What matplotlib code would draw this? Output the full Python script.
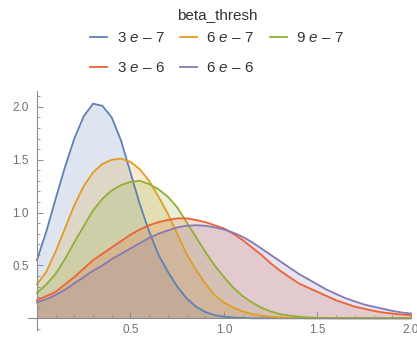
import numpy as np
import matplotlib
matplotlib.use("Agg")
import matplotlib.pyplot as plt
from matplotlib.ticker import MultipleLocator

plt.rcParams['font.family'] = ['Liberation Sans', 'DejaVu Sans']
plt.rcParams['mathtext.fontset'] = 'custom'
plt.rcParams['mathtext.it'] = 'Liberation Sans:italic'
plt.rcParams['mathtext.rm'] = 'Liberation Sans'

# x positions where the curves were read (step 0.05)
x = np.round(np.arange(0, 2.0001, 0.05), 2)

beta_3e7 = [0.55, 0.82, 1.13, 1.43, 1.70, 1.91, 2.03, 2.01, 1.90, 1.68,
            1.38, 1.08, 0.82, 0.60, 0.44, 0.30, 0.19, 0.11, 0.06, 0.03,
            0.015, 0.007, 0.003, 0, 0, 0, 0, 0, 0, 0,
            0, 0, 0, 0, 0, 0, 0, 0, 0, 0, 0]
beta_6e7 = [0.32, 0.44, 0.63, 0.85, 1.07, 1.25, 1.38, 1.46, 1.50, 1.51,
            1.48, 1.41, 1.30, 1.15, 0.99, 0.80, 0.61, 0.46, 0.33, 0.22,
            0.15, 0.10, 0.065, 0.04, 0.025, 0.015, 0.008, 0.004, 0.002, 0,
            0, 0, 0, 0, 0, 0, 0, 0, 0, 0, 0]
beta_9e7 = [0.24, 0.32, 0.42, 0.56, 0.72, 0.87, 1.02, 1.13, 1.21, 1.26,
            1.29, 1.30, 1.27, 1.22, 1.15, 1.05, 0.91, 0.77, 0.63, 0.50,
            0.39, 0.29, 0.21, 0.15, 0.10, 0.065, 0.04, 0.025, 0.015, 0.008,
            0.004, 0.002, 0.001, 0, 0, 0, 0, 0, 0, 0, 0]
beta_3e6 = [0.17, 0.21, 0.25, 0.32, 0.39, 0.47, 0.55, 0.61, 0.67, 0.73,
            0.79, 0.84, 0.88, 0.91, 0.93, 0.945, 0.945, 0.93, 0.91, 0.88,
            0.85, 0.80, 0.74, 0.67, 0.60, 0.52, 0.45, 0.39, 0.33, 0.29,
            0.25, 0.21, 0.17, 0.14, 0.11, 0.09, 0.07, 0.055, 0.045, 0.035, 0.03]
beta_6e6 = [0.15, 0.18, 0.22, 0.27, 0.33, 0.39, 0.45, 0.50, 0.56, 0.61,
            0.66, 0.71, 0.76, 0.80, 0.83, 0.86, 0.875, 0.88, 0.875, 0.86,
            0.84, 0.81, 0.77, 0.72, 0.66, 0.60, 0.54, 0.48, 0.42, 0.37,
            0.32, 0.27, 0.23, 0.19, 0.16, 0.13, 0.11, 0.09, 0.07, 0.055, 0.045]

series = [beta_3e7, beta_6e7, beta_9e7, beta_3e6, beta_6e6]
labels = ["3 $e$ – 7", "6 $e$ – 7", "9 $e$ – 7", "3 $e$ – 6", "6 $e$ – 6"]
colors = ["#5E81B5", "#E19C24", "#8FB032", "#EB6235", "#8778B3"]

fig = plt.figure(figsize=(4.17, 3.37), dpi=100)
ax = fig.add_axes([0.067, 0.021, 0.9186, 0.709])

handles = []
for ys, c in zip(series, colors):
    ax.fill_between(x, 0, ys, color=c, alpha=0.2, linewidth=0, zorder=1)
for ys, lab, c in zip(series, labels, colors):
    h, = ax.plot(x, ys, color=c, lw=1.3, label=lab, zorder=2,
                 solid_joinstyle='round')
    handles.append(h)

ax.set_xlim(-0.048, 2.0)
ax.set_ylim(-0.11, 2.15)

for s in ['top', 'right']:
    ax.spines[s].set_visible(False)
ax.spines['left'].set_position(('data', 0))
ax.spines['bottom'].set_position(('data', 0))
for s in ['left', 'bottom']:
    ax.spines[s].set_color('#8c8c8c')
    ax.spines[s].set_linewidth(0.8)

ax.xaxis.set_minor_locator(MultipleLocator(0.1))
ax.yaxis.set_minor_locator(MultipleLocator(0.1))
ax.set_xticks([0.5, 1.0, 1.5, 2.0])
ax.set_yticks([0.5, 1.0, 1.5, 2.0])
ax.set_xticklabels(["0.5", "1.0", "1.5", "2.0"])
ax.set_yticklabels(["0.5", "1.0", "1.5", "2.0"])
ax.tick_params(which='both', direction='in', color='#8c8c8c',
               labelcolor='#707070', labelsize=8.5)
ax.tick_params(which='major', length=4, width=0.7)
ax.tick_params(which='minor', length=2.2, width=0.6)
ax.tick_params(axis='x', pad=4)
ax.tick_params(axis='y', pad=6)

# legend title as separate text so the row spacing can be set freely
fig.text(217 / 417, 1 - 15 / 337, "beta_thresh", ha='center', va='center',
         fontsize=11, color='#333333')

order = [0, 3, 1, 4, 2]
leg = fig.legend([handles[i] for i in order], [labels[i] for i in order],
                 ncol=3, loc='upper center',
                 bbox_to_anchor=(217 / 417, 0.948), frameon=False, fontsize=11,
                 handlelength=1.15, handletextpad=0.6,
                 columnspacing=1.0, labelspacing=1.05)
for t in leg.get_texts():
    t.set_color('#333333')

fig.savefig("out.png", dpi=100)
